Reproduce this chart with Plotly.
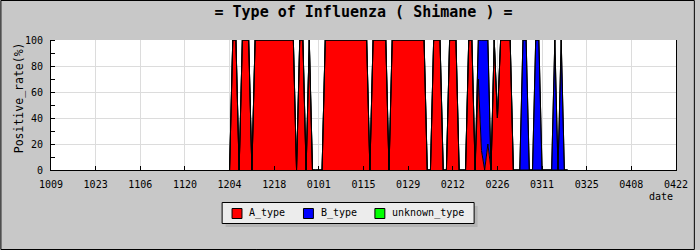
import pandas as pd
import plotly.graph_objects as go

# ---------------- data ----------------
start_date = "2011-12-04"

a_type = [
    0, 100, 100, 0, 100, 100, 100,
    0, 100, 100, 100, 100, 100, 100,
    100, 100, 100, 100, 100, 100, 100,
    0, 100, 100, 0, 100, 0, 0,
    0, 0, 100, 100, 100, 100, 100,
    100, 100, 100, 100, 100, 100, 100,
    100, 100, 0, 100, 100, 100, 100,
    100, 0, 100, 100, 100, 100, 100,
    100, 100, 100, 100, 100, 100, 0,
    0, 100, 100, 100, 0, 0, 100,
    100, 100, 0, 0, 0, 100, 100,
    0, 70, 15, 0, 20, 0, 100,
    40, 100, 100, 100, 100, 0, 0,
    0, 0, 0, 0, 0, 0, 0,
    0, 0, 0, 0, 0, 0, 0,
    0, 0,
]

b_type = [
    0, 0, 0, 0, 0, 0, 0,
    0, 0, 0, 0, 0, 0, 0,
    0, 0, 0, 0, 0, 0, 0,
    0, 0, 0, 0, 0, 0, 0,
    0, 0, 0, 0, 0, 0, 0,
    0, 0, 0, 0, 0, 0, 0,
    0, 0, 0, 0, 0, 0, 0,
    0, 0, 0, 0, 0, 0, 0,
    0, 0, 0, 0, 0, 0, 0,
    0, 0, 0, 0, 0, 0, 0,
    0, 0, 0, 0, 0, 0, 0,
    0, 30, 85, 100, 80, 0, 0,
    0, 0, 0, 0, 0, 0, 0,
    0, 100, 100, 0, 0, 100, 100,
    0, 0, 0, 0, 100, 0, 100,
    0, 0,
]

unknown_type = [
    0, 0, 0, 0, 0, 0, 0,
    0, 0, 0, 0, 0, 0, 0,
    0, 0, 0, 0, 0, 0, 0,
    0, 0, 0, 0, 0, 0, 0,
    0, 0, 0, 0, 0, 0, 0,
    0, 0, 0, 0, 0, 0, 0,
    0, 0, 0, 0, 0, 0, 0,
    0, 0, 0, 0, 0, 0, 0,
    0, 0, 0, 0, 0, 0, 0,
    0, 0, 0, 0, 0, 0, 0,
    0, 0, 0, 0, 0, 0, 0,
    0, 0, 0, 0, 0, 0, 0,
    0, 0, 0, 0, 0, 0, 0,
    0, 0, 0, 0, 0, 0, 0,
    0, 0, 0, 0, 0, 0, 0,
    0, 0,
]

series_names = ["A_type", "B_type", "unknown_type"]
series_colors = ["#ff0000", "#0000ff", "#00ff00"]

tick_dates = [
    "2011-10-09", "2011-10-23", "2011-11-06", "2011-11-20", "2011-12-04",
    "2011-12-18", "2012-01-01", "2012-01-15", "2012-01-29", "2012-02-12",
    "2012-02-26", "2012-03-11", "2012-03-25", "2012-04-08", "2012-04-22",
]
tick_labels = [
    "1009", "1023", "1106", "1120", "1204", "1218", "0101", "0115",
    "0129", "0212", "0226", "0311", "0325", "0408", "0422",
]
y_ticks = [0, 20, 40, 60, 80, 100]

title_text = "= Type of Influenza ( Shimane ) ="
y_title = "Positive_rate(%)"
x_title = "date"

# ---------------- layout geometry (pixels) ----------------
W, H = 700, 250
L, R, T, B = 51, 19, 40, 80
PW, PH = W - L - R, H - T - B
MONO = "DejaVu Sans Mono"


def px2x(px):
    return (px - L) / PW


def py2y(py):
    return (H - B - py) / PH


dates = pd.date_range(start_date, periods=len(a_type), freq="D")

fig = go.Figure()
for name, vals, color in zip(series_names, [a_type, b_type, unknown_type], series_colors):
    fig.add_trace(go.Scatter(
        x=dates, y=vals, name=name, stackgroup="one", mode="lines",
        line=dict(color="black", width=1), fillcolor=color,
        showlegend=False, hoverinfo="skip",
    ))

shapes = []
annotations = []

# figure border
shapes.append(dict(type="rect", xref="paper", yref="paper",
                   x0=px2x(0.5), x1=px2x(W - 0.5), y0=py2y(0.5), y1=py2y(H - 0.5),
                   line=dict(color="black", width=1), layer="above"))

# legend (shadow, box, swatches, labels)
lg_x0, lg_x1, lg_y0, lg_y1 = 223, 477, 202, 223
shapes.append(dict(type="rect", xref="paper", yref="paper",
                   x0=px2x(lg_x0 + 4), x1=px2x(lg_x1 + 4), y0=py2y(lg_y0 + 4), y1=py2y(lg_y1 + 4),
                   line=dict(width=0), fillcolor="#b4b4b4", layer="above"))
shapes.append(dict(type="rect", xref="paper", yref="paper",
                   x0=px2x(lg_x0 + 0.5), x1=px2x(lg_x1 + 0.5), y0=py2y(lg_y0 + 0.5), y1=py2y(lg_y1 + 0.5),
                   line=dict(color="black", width=1), fillcolor="#ececec", layer="above"))
sw_x = [233, 305, 377]
for name, color, sx in zip(series_names, series_colors, sw_x):
    shapes.append(dict(type="rect", xref="paper", yref="paper",
                       x0=px2x(sx + 0.5), x1=px2x(sx + 10.5), y0=py2y(208.5), y1=py2y(218.5),
                       line=dict(color="black", width=1), fillcolor=color, layer="above"))
    annotations.append(dict(text=name, xref="paper", yref="paper",
                            x=px2x(sx + 16), y=py2y(213), xanchor="left", yanchor="middle",
                            showarrow=False, font=dict(family=MONO, size=10, color="black")))

# axis titles
annotations.append(dict(text=y_title, xref="paper", yref="paper", x=px2x(19), y=py2y(98),
                        xanchor="center", yanchor="middle", textangle=-90, showarrow=False,
                        font=dict(family=MONO, size=11.5, color="black")))
annotations.append(dict(text=x_title, xref="paper", yref="paper", x=px2x(680), y=py2y(196),
                        xanchor="right", yanchor="middle", showarrow=False,
                        font=dict(family=MONO, size=10, color="black")))

fig.update_layout(
    width=W, height=H,
    margin=dict(l=L, r=R, t=T, b=B, pad=0),
    paper_bgcolor="#c8c8c8", plot_bgcolor="white",
    title=dict(text=title_text, x=0.5, xref="paper", xanchor="center",
               y=1 - 12 / H, yanchor="middle",
               font=dict(family=MONO, size=15, color="black", weight="bold")),
    showlegend=False,
    shapes=shapes, annotations=annotations,
    xaxis=dict(type="date", range=[tick_dates[0], tick_dates[-1]],
               tickvals=tick_dates, ticktext=tick_labels,
               ticks="inside", ticklen=4, tickcolor="black", tickwidth=1,
               ticklabelstandoff=5,
               showgrid=True, gridcolor="#dcdcdc", gridwidth=1,
               showline=True, linecolor="black", linewidth=1, zeroline=False,
               tickfont=dict(family=MONO, size=10, color="black"), fixedrange=True),
    yaxis=dict(range=[0, 100], tickvals=y_ticks, ticks="",
               minor=dict(dtick=10, tick0=0, ticks="inside", ticklen=4, tickcolor="black", showgrid=False),
               ticklabelstandoff=5,
               showgrid=True, gridcolor="#dcdcdc", gridwidth=1,
               showline=True, mirror=True, linecolor="black", linewidth=1, zeroline=False,
               tickfont=dict(family=MONO, size=10, color="black"), fixedrange=True),
)

fig.write_html("out.html", config={"displayModeBar": False})
